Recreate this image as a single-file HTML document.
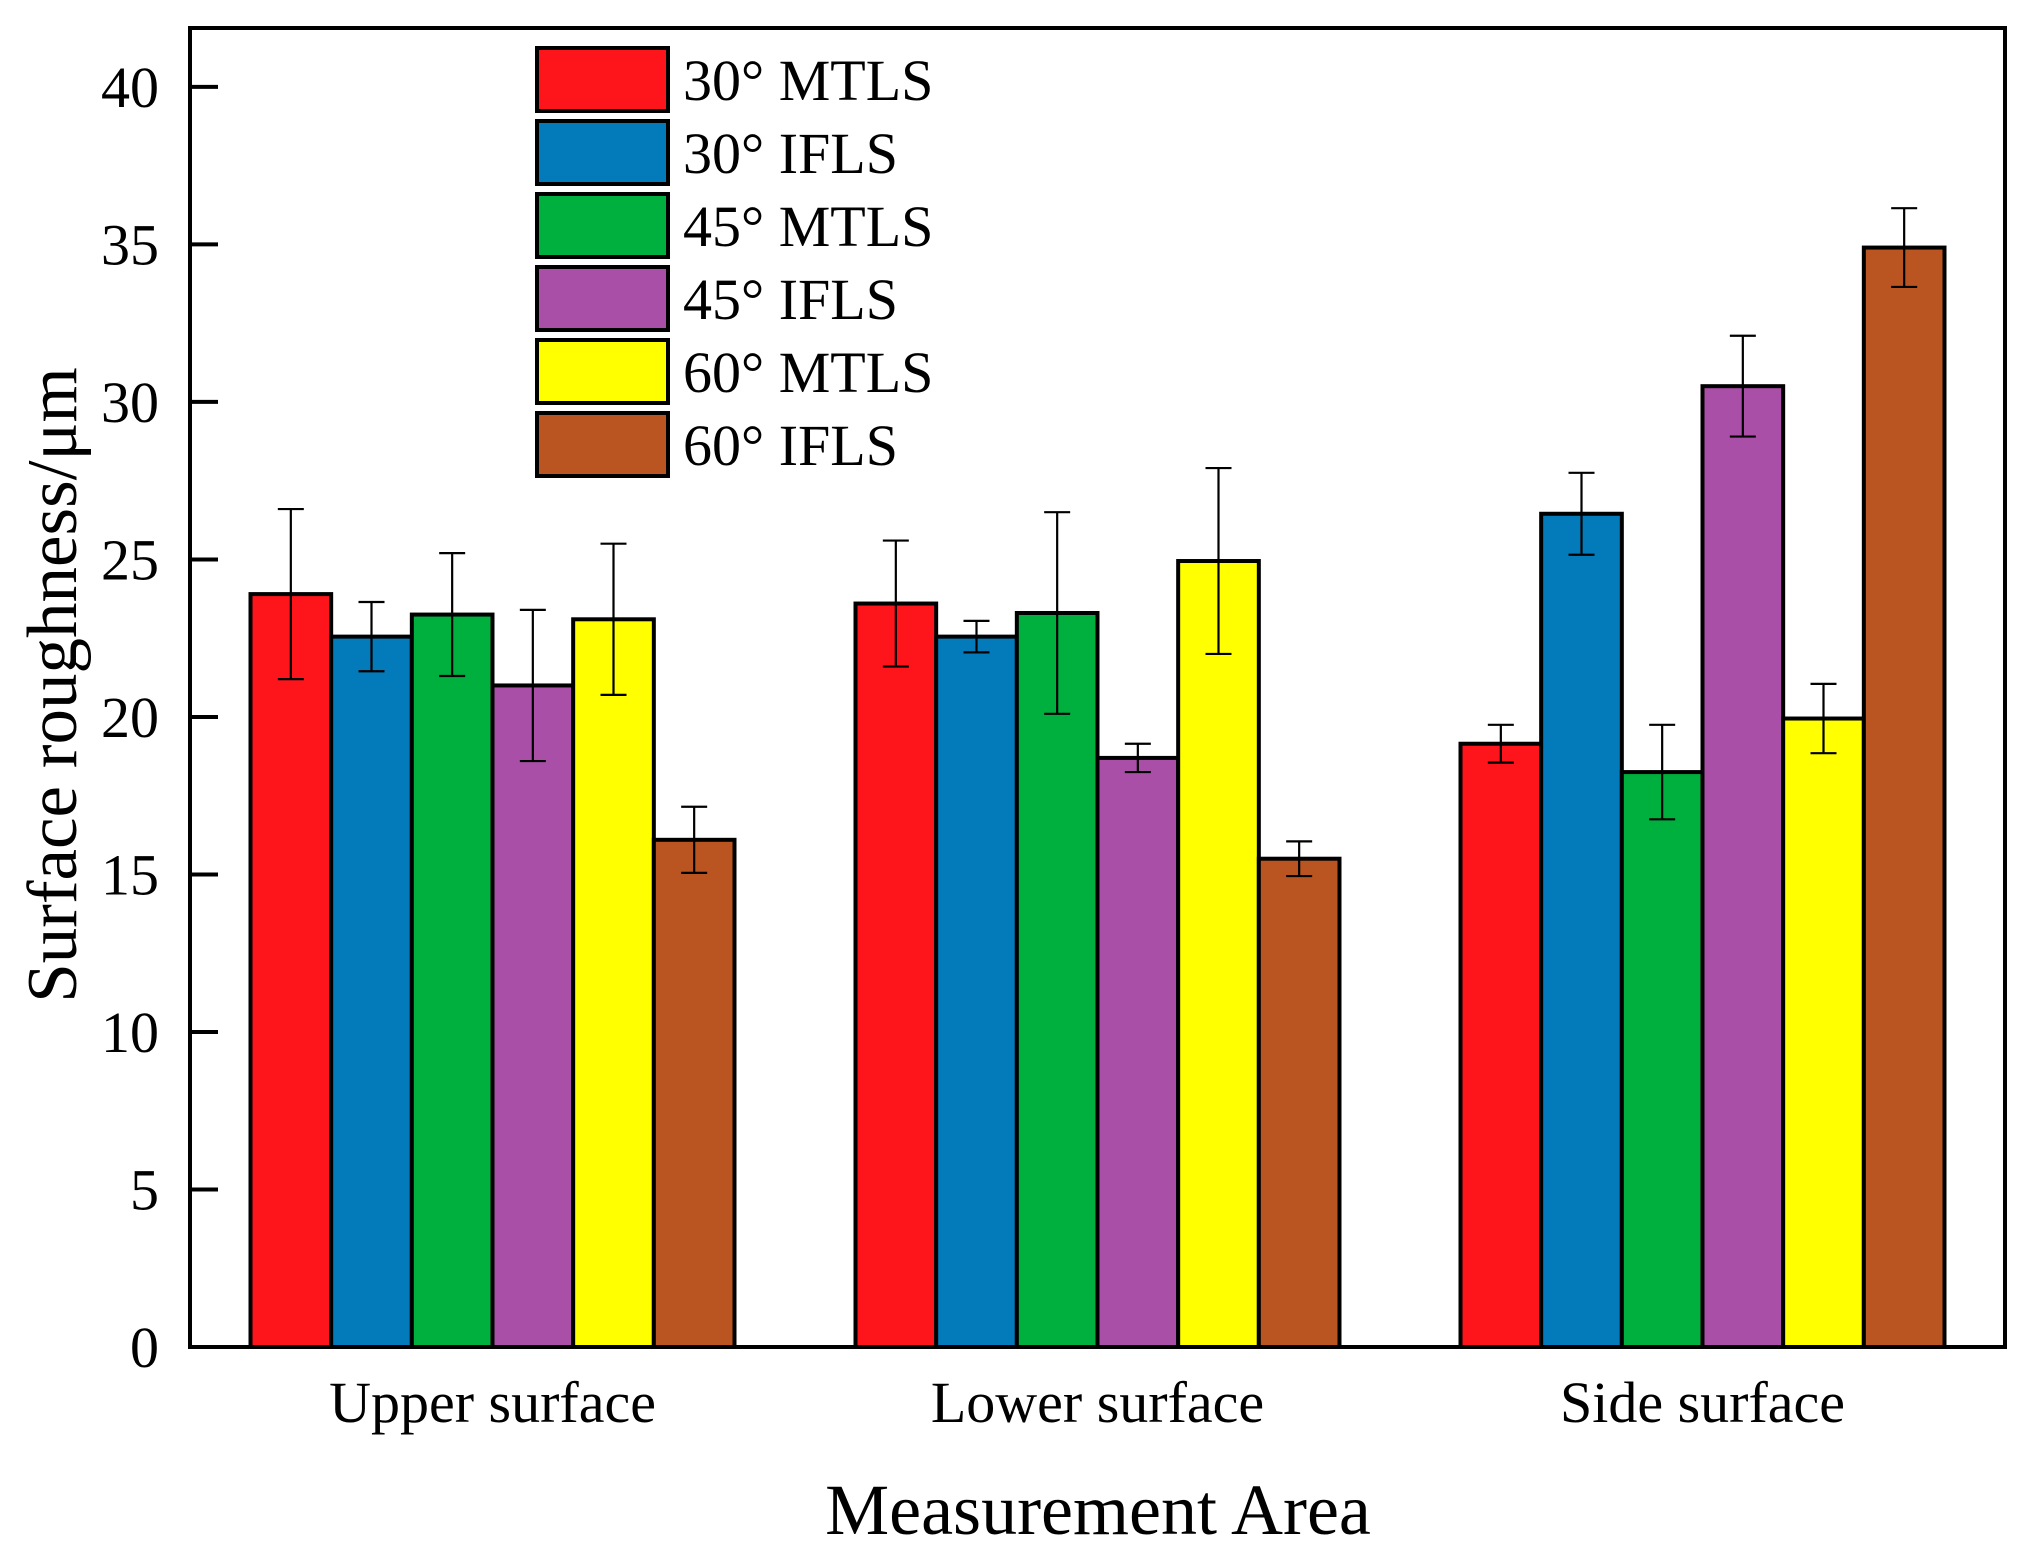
<!DOCTYPE html>
<html><head><meta charset="utf-8"><style>
html,body{margin:0;padding:0;background:#fff;}
svg{display:block;font-family:"Liberation Serif",serif;}
</style></head><body>
<svg id="chart" width="2029" height="1564" viewBox="0 0 2029 1564">
<g id="bars"></g>
<g id="axes"></g>
<g id="legend"></g>
<text x="76" y="685" font-size="71" text-anchor="middle" transform="rotate(-90 76 685)">Surface roughness/μm</text>
<text x="1098" y="1534" font-size="72" text-anchor="middle">Measurement Area</text>
</svg>
<script>
const categories = ["Upper surface", "Lower surface", "Side surface"];
const seriesNames = ["30° MTLS", "30° IFLS", "45° MTLS", "45° IFLS", "60° MTLS", "60° IFLS"];
const seriesColors = ["#fe141b", "#037bbb", "#00b03e", "#aa4fa7", "#ffff00", "#ba5420"];
const s30MTLS = [23.9, 23.6, 19.15];
const s30IFLS = [22.55, 22.55, 26.45];
const s45MTLS = [23.25, 23.3, 18.25];
const s45IFLS = [21.0, 18.7, 30.5];
const s60MTLS = [23.1, 24.95, 19.95];
const s60IFLS = [16.1, 15.5, 34.9];
const e30MTLS = [2.7, 2.0, 0.6];
const e30IFLS = [1.1, 0.5, 1.3];
const e45MTLS = [1.95, 3.2, 1.5];
const e45IFLS = [2.4, 0.45, 1.6];
const e60MTLS = [2.4, 2.95, 1.1];
const e60IFLS = [1.05, 0.55, 1.25];
const yTicks = [0, 5, 10, 15, 20, 25, 30, 35, 40];

const values = [s30MTLS, s30IFLS, s45MTLS, s45IFLS, s60MTLS, s60IFLS];
const errors = [e30MTLS, e30IFLS, e45MTLS, e45IFLS, e60MTLS, e60IFLS];
const NS = "http://www.w3.org/2000/svg";
const L = 190, R = 2005, T = 28, B = 1347;
const yMin = 0, yMax = 41.87;
function y(v){ return B - (v - yMin) / (yMax - yMin) * (B - T); }
const band = (R - L) / categories.length;
function xCenter(i){ return L + band * (i + 0.5); }
const groupW = band * 0.8, barW = groupW / seriesNames.length;
function xBar(i, s){ return xCenter(i) - groupW / 2 + s * barW; }
function mk(tag, attrs, parent){ const e = document.createElementNS(NS, tag); for (const k in attrs) e.setAttribute(k, attrs[k]); parent.appendChild(e); return e; }

const bars = document.getElementById('bars');
for (let s = 0; s < values.length; s++) {
  for (let i = 0; i < categories.length; i++) {
    const v = values[s][i], x0 = xBar(i, s);
    const r = mk('rect', {x: x0, y: y(v), width: barW, height: y(0) - y(v), fill: seriesColors[s], stroke: '#000', 'stroke-width': 4}, bars);
    
    
  }
}
for (let s = 0; s < values.length; s++) {
  for (let i = 0; i < categories.length; i++) {
    const v = values[s][i], e = errors[s][i], cx = xBar(i, s) + barW / 2;
    const g = mk('g', {stroke: '#000', 'stroke-width': 2.2}, bars);
    
    
    mk('line', {x1: cx, x2: cx, y1: y(v + e), y2: y(v - e)}, g);
    mk('line', {x1: cx - 13, x2: cx + 13, y1: y(v + e), y2: y(v + e)}, g);
    mk('line', {x1: cx - 13, x2: cx + 13, y1: y(v - e), y2: y(v - e)}, g);
  }
}

const axes = document.getElementById('axes');
const frame = mk('rect', {x: L, y: T, width: R - L, height: B - T, fill: 'none', stroke: '#000', 'stroke-width': 4}, axes);


for (const t of yTicks) {
  const tk = mk('line', {x1: L, x2: L + 28, y1: y(t), y2: y(t), stroke: '#000', 'stroke-width': 4}, axes);
  
  
  const lb = mk('text', {x: 159, y: y(t) + 20, 'font-size': 58, 'text-anchor': 'end'}, axes);
  lb.textContent = t;
  
  
}
for (let i = 0; i < categories.length; i++) {
  const lb = mk('text', {x: xCenter(i), y: 1422, 'font-size': 58, 'text-anchor': 'middle'}, axes);
  lb.textContent = categories[i];
  
  
}

const legend = document.getElementById('legend');
for (let s = 0; s < seriesNames.length; s++) {
  const top = 48 + s * 73;
  const g = mk('g', {}, legend);
  
  
  mk('rect', {x: 537, y: top, width: 131, height: 63, fill: seriesColors[s], stroke: '#000', 'stroke-width': 4}, g);
  const t = mk('text', {x: 683, y: top + 52, 'font-size': 58}, g);
  t.textContent = seriesNames[s];
}
</script>
</body></html>
